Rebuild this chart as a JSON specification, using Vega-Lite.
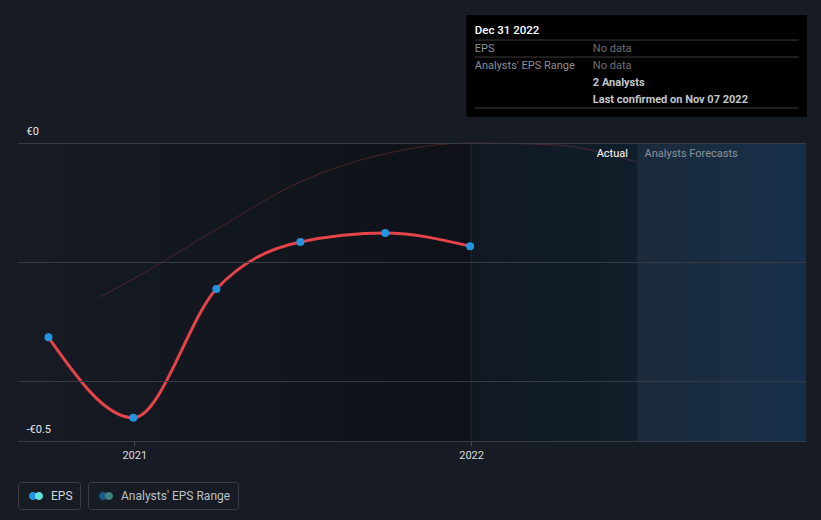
{
  "$schema": "https://vega.github.io/schema/vega-lite/v6.json",
  "width": 788,
  "height": 441,
  "padding": {"left": 17, "top": 0, "right": 16, "bottom": 12},
  "background": "#161b24",
  "config": {
    "font": "Roboto",
    "view": {"stroke": null},
    "legend": {"orient": "none"}
  },
  "resolve": {"scale": {"color": "independent"}, "legend": {"color": "independent"}},
  "datasets": {
    "eps": [
      {"date": "2020-09-30", "value": -0.326},
      {"date": "2020-12-31", "value": -0.461},
      {"date": "2021-03-31", "value": -0.245},
      {"date": "2021-06-30", "value": -0.166},
      {"date": "2021-09-30", "value": -0.151},
      {"date": "2021-12-31", "value": -0.173}
    ],
    "range": [
      {"date": "2020-11-25", "value": -0.258},
      {"date": "2020-12-31", "value": -0.228},
      {"date": "2021-03-31", "value": -0.145},
      {"date": "2021-06-30", "value": -0.065},
      {"date": "2021-09-30", "value": -0.018},
      {"date": "2021-12-31", "value": 0.0},
      {"date": "2022-03-31", "value": -0.003},
      {"date": "2022-06-30", "value": -0.032}
    ]
  },
  "encoding": {
    "x": {
      "field": "date",
      "type": "temporal",
      "scale": {
        "type": "utc",
        "domain": [
          {"year": 2020, "month": 8, "date": 28, "utc": true},
          {"year": 2022, "month": 12, "date": 30, "utc": true}
        ]
      },
      "axis": {
        "values": [
          {"year": 2021, "month": 1, "date": 1, "utc": true},
          {"year": 2022, "month": 1, "date": 1, "utc": true}
        ],
        "format": "%Y",
        "title": null,
        "grid": false,
        "domainColor": "#464b53",
        "tickColor": "#464b53",
        "tickSize": 5,
        "labelColor": "#dcdcdc",
        "labelFontSize": 11,
        "labelPadding": 3,
        "labelFlush": false
      }
    },
    "y": {
      "field": "value",
      "type": "quantitative",
      "scale": {"domain": [-0.5, 0.24], "nice": false, "zero": false},
      "axis": {
        "values": [0, -0.2, -0.4, -0.5],
        "labelExpr": "datum.value == 0 ? '€0' : (datum.value == -0.5 ? '-€0.5' : '')",
        "title": null,
        "ticks": false,
        "domain": false,
        "gridColor": "#363b43",
        "labelAlign": "left",
        "labelPadding": -8,
        "labelBaseline": "alphabetic",
        "labelOffset": -9,
        "labelColor": "#e6e6e6",
        "labelFontSize": 11,
        "labelFlush": false,
        "labelOverlap": false,
        "zindex": 1
      }
    }
  },
  "layer": [
    {
      "data": {"values": [{"start": "2020-08-28", "end": "2022-01-01", "top": 0, "bottom": -0.5}]},
      "mark": {
        "type": "rect",
        "fill": {"gradient": "linear", "x1": 0, "x2": 1, "y1": 0, "y2": 0,
          "stops": [{"offset": 0, "color": "#161b24"}, {"offset": 1, "color": "#0e1117"}]}
      },
      "encoding": {"x": {"field": "start", "type": "temporal"}, "x2": {"field": "end"}, "y": {"field": "top", "type": "quantitative"}, "y2": {"field": "bottom"}}
    },
    {
      "data": {"values": [{"start": "2022-01-01", "end": "2022-06-30", "top": 0, "bottom": -0.5}]},
      "mark": {
        "type": "rect",
        "fill": {"gradient": "linear", "x1": 0, "x2": 1, "y1": 0, "y2": 0,
          "stops": [{"offset": 0, "color": "#111821"}, {"offset": 1, "color": "#0f1e2b"}]}
      },
      "encoding": {"x": {"field": "start", "type": "temporal"}, "x2": {"field": "end"}, "y": {"field": "top", "type": "quantitative"}, "y2": {"field": "bottom"}}
    },
    {
      "data": {"values": [{"start": "2022-06-30", "end": "2022-12-30", "top": 0, "bottom": -0.5}]},
      "mark": {
        "type": "rect",
        "fill": {"gradient": "linear", "x1": 0, "x2": 1, "y1": 0, "y2": 0,
          "stops": [{"offset": 0, "color": "#1b2a3b"}, {"offset": 1, "color": "#17304a"}]}
      },
      "encoding": {"x": {"field": "start", "type": "temporal"}, "x2": {"field": "end"}, "y": {"field": "top", "type": "quantitative"}, "y2": {"field": "bottom"}}
    },
    {
      "data": {"values": [{"date": "2022-01-01", "top": 0, "bottom": -0.5}]},
      "mark": {"type": "rule", "color": "#1f2a34", "strokeWidth": 1},
      "encoding": {"x": {"field": "date", "type": "temporal"}, "y": {"field": "top", "type": "quantitative"}, "y2": {"field": "bottom"}}
    },
    {
      "data": {"name": "range"},
      "mark": {"type": "line", "interpolate": "monotone", "strokeWidth": 1},
      "encoding": {
        "color": {
          "datum": "Analysts' EPS Range",
          "scale": {"range": ["rgba(229,67,74,0.28)"]},
          "legend": {
            "title": null,
            "orient": "none",
            "legendX": 70,
            "legendY": 482,
            "strokeColor": "#3a3f47",
            "cornerRadius": 3,
            "padding": 7,
            "symbolOffset": 4,
            "symbolType": "M-0.43,-0.57A0.57,0.57 0 1,0 -0.43,0.57A0.57,0.57 0 1,0 -0.43,-0.57Z M0.43,-0.57A0.57,0.57 0 1,0 0.43,0.57A0.57,0.57 0 1,0 0.43,-0.57Z",
            "symbolSize": 196,
            "symbolStrokeWidth": 0,
            "labelColor": "#bcc1c7",
            "labelFontSize": 12,
            "labelOffset": 8,
            "encode": {
              "symbols": {
                "update": {
                  "fill": {"value": {"gradient": "linear", "x1": 0, "x2": 1, "y1": 0, "y2": 0,
                    "stops": [{"offset": 0, "color": "#1d5a86"}, {"offset": 0.45, "color": "#1d5a86"}, {"offset": 0.45, "color": "#3f8282"}, {"offset": 1, "color": "#3f8282"}]}},
                  "stroke": {"value": "transparent"},
                  "strokeWidth": {"value": 0},
                  "opacity": {"value": 1}
                }
              }
            }
          }
        }
      }
    },
    {
      "data": {"name": "eps"},
      "mark": {"type": "line", "interpolate": "monotone", "strokeWidth": 3},
      "encoding": {
        "color": {
          "datum": "EPS",
          "scale": {"range": ["#e5434a"]},
          "legend": {
            "title": null,
            "orient": "none",
            "legendX": 0,
            "legendY": 482,
            "strokeColor": "#3a3f47",
            "cornerRadius": 3,
            "padding": 7,
            "symbolOffset": 4,
            "symbolType": "M-0.43,-0.57A0.57,0.57 0 1,0 -0.43,0.57A0.57,0.57 0 1,0 -0.43,-0.57Z M0.43,-0.57A0.57,0.57 0 1,0 0.43,0.57A0.57,0.57 0 1,0 0.43,-0.57Z",
            "symbolSize": 196,
            "symbolStrokeWidth": 0,
            "labelColor": "#d3d7dc",
            "labelFontSize": 12,
            "labelOffset": 8,
            "encode": {
              "symbols": {
                "update": {
                  "fill": {"value": {"gradient": "linear", "x1": 0, "x2": 1, "y1": 0, "y2": 0,
                    "stops": [{"offset": 0, "color": "#2394df"}, {"offset": 0.45, "color": "#2394df"}, {"offset": 0.45, "color": "#62e0da"}, {"offset": 1, "color": "#62e0da"}]}},
                  "stroke": {"value": "transparent"},
                  "strokeWidth": {"value": 0},
                  "opacity": {"value": 1}
                }
              }
            }
          }
        }
      }
    },
    {
      "data": {"name": "eps"},
      "mark": {"type": "point", "filled": true, "size": 64, "color": "#2394df", "opacity": 1}
    },
    {
      "data": {"values": [{"date": "2022-06-20", "value": -0.0185, "label": "Actual"}]},
      "mark": {"type": "text", "align": "right", "baseline": "middle", "color": "#ffffff", "fontSize": 11},
      "encoding": {"text": {"field": "label"}}
    },
    {
      "data": {"values": [{"date": "2022-07-08", "value": -0.0185, "label": "Analysts Forecasts"}]},
      "mark": {"type": "text", "align": "left", "baseline": "middle", "color": "#8b939b", "fontSize": 11},
      "encoding": {"text": {"field": "label"}}
    },
    {
      "data": {"values": [{"start": "2021-12-27", "end": "2022-12-31", "top": 0.2148, "bottom": 0.0436}]},
      "mark": {"type": "rect", "color": "#000000"},
      "encoding": {"x": {"field": "start", "type": "temporal"}, "x2": {"field": "end"}, "y": {"field": "top", "type": "quantitative"}, "y2": {"field": "bottom"}}
    },
    {
      "data": {"values": [
        {"start": "2022-01-05", "end": "2022-12-22", "value": 0.1728},
        {"start": "2022-01-05", "end": "2022-12-22", "value": 0.1443},
        {"start": "2022-01-05", "end": "2022-12-22", "value": 0.0587}
      ]},
      "mark": {"type": "rule", "color": "#3c3c3c", "strokeWidth": 1},
      "encoding": {"x": {"field": "start", "type": "temporal"}, "x2": {"field": "end"}}
    },
    {
      "data": {"values": [{"date": "2022-01-05", "value": 0.1879, "label": "Dec 31 2022"}]},
      "mark": {"type": "text", "align": "left", "baseline": "middle", "color": "#ffffff", "fontSize": 11.5, "fontWeight": 500},
      "encoding": {"text": {"field": "label"}}
    },
    {
      "data": {"values": [
        {"date": "2022-01-05", "value": 0.1577, "label": "EPS"},
        {"date": "2022-01-05", "value": 0.1292, "label": "Analysts' EPS Range"}
      ]},
      "mark": {"type": "text", "align": "left", "baseline": "middle", "color": "#8c9197", "fontSize": 11},
      "encoding": {"text": {"field": "label"}}
    },
    {
      "data": {"values": [
        {"date": "2022-05-13", "value": 0.1577, "label": "No data"},
        {"date": "2022-05-13", "value": 0.1292, "label": "No data"}
      ]},
      "mark": {"type": "text", "align": "left", "baseline": "middle", "color": "#6b7076", "fontSize": 11},
      "encoding": {"text": {"field": "label"}}
    },
    {
      "data": {"values": [
        {"date": "2022-05-13", "value": 0.1007, "label": "2 Analysts"},
        {"date": "2022-05-13", "value": 0.0721, "label": "Last confirmed on Nov 07 2022"}
      ]},
      "mark": {"type": "text", "align": "left", "baseline": "middle", "color": "#c2c6cb", "fontSize": 11, "fontWeight": "bold"},
      "encoding": {"text": {"field": "label"}}
    }
  ]
}
